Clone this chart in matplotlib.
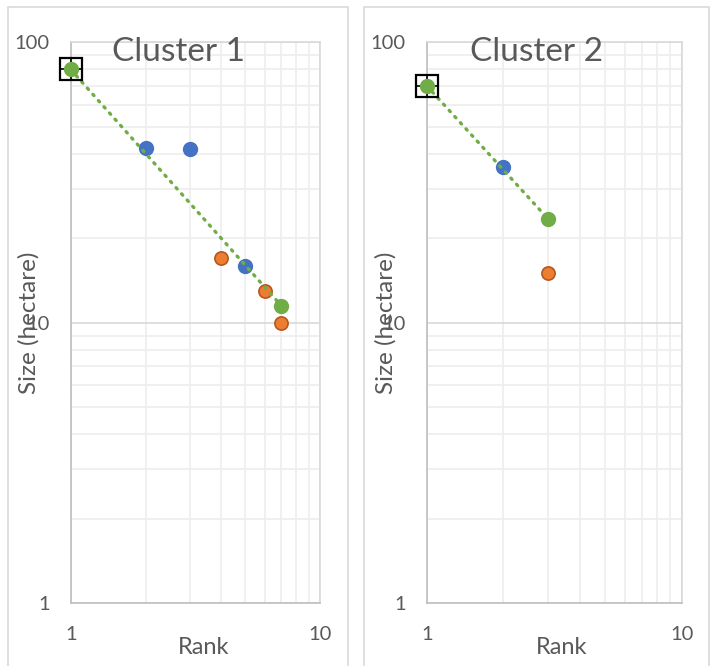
# Rank-size plots for two clusters (log-log)

import matplotlib.pyplot as plt
from matplotlib.patches import Rectangle
from matplotlib.ticker import LogLocator, NullFormatter, FixedLocator

plt.rcParams['font.family'] = ['Lato', 'DejaVu Sans']

titles = ["Cluster 1", "Cluster 2"]

c1_blue_x = [2, 3, 5]
c1_blue_y = [42, 41.5, 16]
c1_orange_x = [4, 6, 7]
c1_orange_y = [17, 13, 10]
c1_green_x = [1, 7]
c1_green_y = [80, 11.5]

c2_blue_x = [2]
c2_blue_y = [36]
c2_orange_x = [3]
c2_orange_y = [15]
c2_green_x = [1, 3]
c2_green_y = [70, 23.4]

x_ticks = [1, 10]
y_ticks = [1, 10, 100]

blue = '#4472C4'
orange = '#ED7D31'
orange_edge = '#B3581E'
green = '#70AD47'
text_col = '#595959'

W, H = 713, 666
fig = plt.figure(figsize=(W / 100, H / 100), dpi=100)

# outer chart frames
for x0, x1 in [(8, 348), (364, 709)]:
    fig.patches.append(Rectangle((x0 / W, -0.02), (x1 - x0) / W, (666 - 7) / H + 0.02,
                                 transform=fig.transFigure, fill=False,
                                 edgecolor='#d9d9d9', lw=1.2))

panels = [
    (70.7, 249.3, 178, (c1_blue_x, c1_blue_y), (c1_orange_x, c1_orange_y), (c1_green_x, c1_green_y)),
    (426.7, 255.0, 536.5, (c2_blue_x, c2_blue_y), (c2_orange_x, c2_orange_y), (c2_green_x, c2_green_y)),
]

for i, (left, width, title_x, bl, orr, gr) in enumerate(panels):
    ax = fig.add_axes([left / W, (666 - 603.3) / H, width / W, 561 / H])
    ax.set_xscale('log')
    ax.set_yscale('log')
    ax.set_xlim(1, 10)
    ax.set_ylim(1, 100)

    ax.xaxis.set_major_locator(FixedLocator(x_ticks))
    ax.yaxis.set_major_locator(FixedLocator(y_ticks))
    ax.set_xticklabels([str(t) for t in x_ticks])
    ax.set_yticklabels([str(t) for t in y_ticks])
    ax.xaxis.set_minor_locator(LogLocator(base=10, subs=range(2, 10)))
    ax.yaxis.set_minor_locator(LogLocator(base=10, subs=range(2, 10)))
    ax.xaxis.set_minor_formatter(NullFormatter())
    ax.yaxis.set_minor_formatter(NullFormatter())
    ax.tick_params(which='both', length=0, labelsize=14.5, labelcolor=text_col)
    ax.tick_params(axis='x', pad=16)
    ax.tick_params(axis='y', pad=15)

    ax.grid(which='minor', color='#eeeeee', lw=1.2)
    ax.grid(which='major', color='#d9d9d9', lw=1.2)
    ax.set_axisbelow(True)
    for s in ['top', 'right']:
        ax.spines[s].set_color('#d9d9d9')
        ax.spines[s].set_linewidth(1.2)
    for s in ['left', 'bottom']:
        ax.spines[s].set_color('#bfbfbf')
        ax.spines[s].set_linewidth(1.2)

    # highlighted first point
    ax.plot(gr[0][0], gr[1][0], marker='+', ms=16, mew=1.2, color='black', ls='none', zorder=3, clip_on=False)
    ax.plot(bl[0], bl[1], 'o', ms=10, color=blue, mec=blue, zorder=4, clip_on=False)
    ax.plot(orr[0], orr[1], 'o', ms=9.5, color=orange, mec=orange_edge, mew=1.2, zorder=4, clip_on=False)
    ax.plot(gr[0], gr[1], 'o', ms=10, color=green, mec=green, zorder=4, clip_on=False)
    ax.plot(gr[0], gr[1], color=green, lw=2.4, ls=(0, (0.5, 2.0)), dash_capstyle='round', zorder=5)
    ax.plot(gr[0][0], gr[1][0], marker='s', ms=16, mfc='none', mec='black', mew=1.6, ls='none',
            zorder=6, clip_on=False)

    fig.text(title_x / W, 1 - 52 / H, titles[i], ha='center', va='center', fontsize=24, color=text_col)
    ax.text((204 - 70.7) / 249.3 if i == 0 else (562 - left) / width, -0.078, "Rank",
            transform=ax.transAxes, ha='center', va='center', fontsize=17, color=text_col)
    ax.text(-(left - (29 if i == 0 else 386)) / width, 0.5, "Size (hectare)", rotation=90,
            transform=ax.transAxes, ha='center', va='center', fontsize=17.5, color=text_col)

fig.savefig('out.png', dpi=100)
